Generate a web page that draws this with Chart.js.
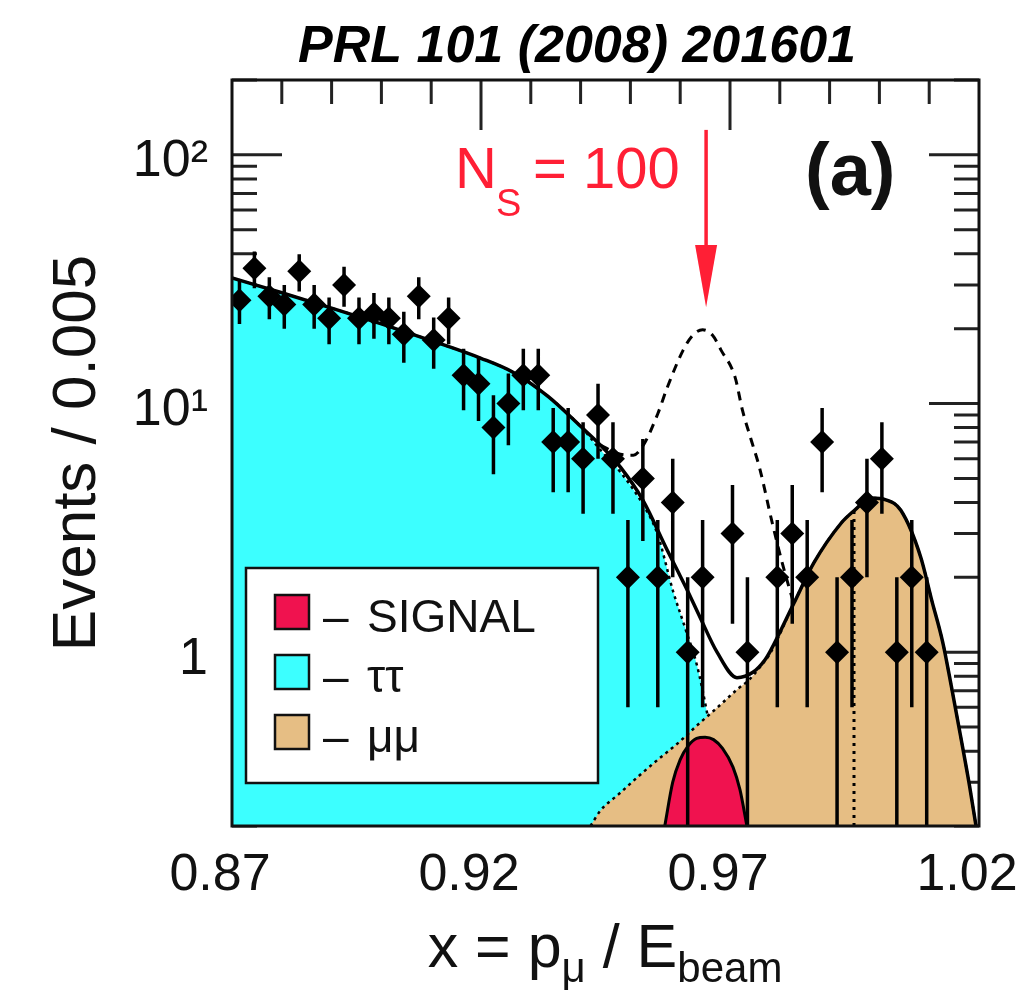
<!DOCTYPE html>
<html>
<head>
<meta charset="utf-8">
<script src="https://cdn.jsdelivr.net/npm/chart.js@4.4.1/dist/chart.umd.min.js"></script>
<style>
    html, body { margin: 0; padding: 0; background: #fff; }
</style>
</head>
<body>
<canvas id="chart" width="1020" height="998"></canvas>
<script>
const FONT = '"Liberation Sans", Arial, Helvetica, sans-serif';

// Measured points (bins without entries are not drawn on the log scale)
const dataX = [0.8715, 0.8745, 0.8775, 0.8805, 0.8835, 0.8865, 0.8895, 0.8925, 0.8955, 0.8985,
    0.9015, 0.9045, 0.9075, 0.9105, 0.9135, 0.9165, 0.9195, 0.9225, 0.9255, 0.9285,
    0.9315, 0.9345, 0.9375, 0.9405, 0.9435, 0.9465, 0.9495, 0.9525, 0.9555, 0.9585,
    0.9615, 0.9645, 0.9705, 0.9735, 0.9795, 0.9825, 0.9855, 0.9885, 0.9915, 0.9945,
    0.9975, 1.0005, 1.0035, 1.0065, 1.0095];
const dataY = [26, 35, 27, 25, 34, 25, 22, 30, 22, 23,
    22, 19, 27, 18, 22, 13, 12, 8, 10, 13,
    13, 7, 7, 6, 9, 6, 2, 5, 2, 4,
    1, 2, 3, 1, 2, 3, 2, 7, 1, 2,
    4, 6, 1, 2, 1];
const dataErr = [5.1, 5.9, 5.2, 5.0, 5.8, 5.0, 4.7, 5.5, 4.7, 4.8,
    4.7, 4.4, 5.2, 4.2, 4.7, 3.6, 3.5, 2.8, 3.2, 3.6,
    3.6, 2.6, 2.6, 2.4, 3.0, 2.4, 1.4, 2.2, 1.4, 2.0,
    1.0, 1.4, 1.7, 1.0, 1.4, 1.7, 1.4, 2.6, 1.0, 1.4,
    2.0, 2.4, 1.0, 1.4, 1.0];

// tau-pair background
const tauX = [0.870, 0.880, 0.890, 0.900, 0.910, 0.920, 0.9266, 0.9334, 0.940, 0.944,
    0.948, 0.9526, 0.9554, 0.9586, 0.9610, 0.9634, 0.9654, 0.9670, 0.9685, 0.9695];
const tauY = [32.0, 27.9, 24.2, 20.9, 17.9, 15.2, 13.3, 10.7, 8.1, 6.5,
    5.3, 3.9, 3.0, 1.75, 1.25, 0.88, 0.57, 0.38, 0.26, 0.2];

// mu-pair background
const muX = [0.942, 0.944, 0.9476, 0.9514, 0.9554, 0.9595, 0.9635, 0.9675, 0.9715, 0.9737,
    0.9760, 0.9782, 0.9828, 0.9868, 0.9923, 0.9950, 0.9983, 1.0013, 1.0043, 1.0083,
    1.0105, 1.0127, 1.0145, 1.0163, 1.0181, 1.0194];
const muY = [0.2, 0.231, 0.268, 0.314, 0.368, 0.43, 0.51, 0.60, 0.71, 0.77,
    0.87, 1.0, 1.57, 2.28, 3.3, 3.72, 4.17, 4.1, 3.72, 2.41,
    1.62, 1.10, 0.72, 0.46, 0.29, 0.2];

// fitted signal
const sigX = [0.9569, 0.9585, 0.9600, 0.9616, 0.9633, 0.9650, 0.9667, 0.9685, 0.9706, 0.9720, 0.9734];
const sigY = [0.2, 0.30, 0.37, 0.42, 0.45, 0.455, 0.445, 0.41, 0.345, 0.28, 0.2];

// total fit
const totX = [0.870, 0.880, 0.890, 0.900, 0.910, 0.920, 0.9266, 0.9334, 0.940, 0.944,
    0.948, 0.9525, 0.9574, 0.9594, 0.9614, 0.9640, 0.9674, 0.9714, 0.9746, 0.9770,
    0.9782, 0.9828, 0.9868, 0.9923, 0.9950, 0.9983, 1.0013, 1.0043, 1.0083, 1.0105,
    1.0127, 1.0145, 1.0163, 1.0181, 1.0194];
const totY = [32.0, 27.9, 24.2, 20.9, 17.9, 15.2, 13.3, 10.7, 8.1, 6.8,
    5.55, 4.09, 2.57, 2.14, 1.78, 1.38, 1.0, 0.79, 0.83, 0.93,
    1.02, 1.57, 2.28, 3.3, 3.72, 4.17, 4.1, 3.72, 2.41, 1.62,
    1.10, 0.72, 0.46, 0.29, 0.2];

// total with 100 signal events
const ns100X = [0.9440, 0.9480, 0.9506, 0.9526, 0.9555, 0.9574, 0.9606, 0.9625, 0.9645, 0.9665,
    0.9682, 0.9710, 0.9725, 0.9742, 0.9759, 0.9785, 0.9805, 0.9828];
const ns100Y = [6.8, 6.25, 6.2, 6.8, 9.1, 11.6, 16.4, 18.8, 19.8, 18.8,
    16.4, 12.8, 9.4, 7.2, 5.55, 3.3, 2.28, 1.57];

const cutX = [0.9949, 0.9949];
const cutY = [0.2, 3.7];

const arrowX = 0.9652;
const arrowY = [126, 43.4, 24.4];

const xTicks = [0.87, 0.92, 0.97, 1.02];
const yTicks = [1, 10, 100];
const yTickLabels = ["1", "10¹", "10²"];

const toPoints = (xs, ys) => xs.map((x, i) => ({ x: x, y: ys[i] }));

const curve = (label, xs, ys, extra) => Object.assign({
    label: label,
    data: toPoints(xs, ys),
    borderColor: "#000",
    borderWidth: 3,
    pointRadius: 0,
    pointHoverRadius: 0,
    fill: false,
    cubicInterpolationMode: "monotone"
}, extra);

// index 0 is drawn on top
const datasets = [
    {
        label: "data",
        data: toPoints(dataX, dataY),
        showLine: false,
        pointStyle: "rectRot",
        pointRadius: 12,
        pointHoverRadius: 12,
        pointBorderWidth: 0,
        backgroundColor: "#000",
        borderColor: "#000"
    },
    curve("N_S = 100", ns100X, ns100Y, { borderDash: [9, 7], borderWidth: 3 }),
    curve("total", totX, totY, { borderWidth: 3.5 }),
    curve("cut", cutX, cutY, { borderDash: [3, 5], borderWidth: 3, cubicInterpolationMode: "default" }),
    curve("SIGNAL", sigX, sigY, { backgroundColor: "#f0124f", borderWidth: 3, fill: "start" }),
    curve("μμ", muX, muY, { backgroundColor: "#e6be84", borderDash: [3, 4], borderWidth: 2.5, fill: "start" }),
    curve("ττ", tauX, tauY, { backgroundColor: "#3cffff", borderDash: [3, 4], borderWidth: 2.5, fill: "start" })
];

const legendLabels = ["SIGNAL", "ττ", "μμ"];

const drawTicks = chart => {
    const { ctx, chartArea: a, scales: { x, y } } = chart;
    ctx.save();
    ctx.strokeStyle = "#222";
    ctx.lineWidth = 3;
    ctx.beginPath();
    for (let i = 88; i <= 101; i++) {
        const px = x.getPixelForValue(i / 100);
        const len = i % 5 === 2 ? 50 : 24;
        ctx.moveTo(px, a.top);
        ctx.lineTo(px, a.top + len);
        ctx.moveTo(px, a.bottom);
        ctx.lineTo(px, a.bottom - len);
    }
    for (const decade of [0.1, 1, 10, 100]) {
        for (let m = 1; m < 10; m++) {
            const v = decade * m;
            if (v < y.min * 0.999 || v > y.max * 1.001) continue;
            const py = y.getPixelForValue(v);
            const len = m === 1 ? 50 : 25;
            ctx.moveTo(a.left, py);
            ctx.lineTo(a.left + len, py);
            ctx.moveTo(a.right, py);
            ctx.lineTo(a.right - len, py);
        }
    }
    ctx.stroke();
    ctx.restore();
};

const drawErrorBars = chart => {
    const { ctx, chartArea: a, scales: { x, y } } = chart;
    ctx.save();
    ctx.beginPath();
    ctx.rect(a.left, a.top, a.right - a.left, a.bottom - a.top);
    ctx.clip();
    ctx.strokeStyle = "#000";
    ctx.lineWidth = 3.5;
    ctx.beginPath();
    dataX.forEach((v, i) => {
        const px = x.getPixelForValue(v);
        const hi = y.getPixelForValue(dataY[i] + dataErr[i]);
        const low = dataY[i] - dataErr[i];
        const lo = low > y.min ? y.getPixelForValue(low) : a.bottom;
        ctx.moveTo(px, hi);
        ctx.lineTo(px, lo);
    });
    ctx.stroke();
    ctx.restore();
};

const drawLegend = chart => {
    const ctx = chart.ctx;
    ctx.save();
    ctx.fillStyle = "#fff";
    ctx.fillRect(246, 568, 352, 215);
    ctx.strokeStyle = "#111";
    ctx.lineWidth = 2.5;
    ctx.strokeRect(246, 568, 352, 215);
    legendLabels.forEach((label, i) => {
        const ds = chart.data.datasets.find(d => d.label === label);
        const top = 595 + i * 60;
        ctx.fillStyle = ds.backgroundColor;
        ctx.fillRect(275, top, 34, 34);
        ctx.strokeStyle = "#111";
        ctx.lineWidth = 2.5;
        ctx.strokeRect(275, top, 34, 34);
        ctx.fillStyle = "#111";
        ctx.font = "46px " + FONT;
        ctx.textBaseline = "alphabetic";
        ctx.textAlign = "left";
        ctx.fillText("–", 323, top + 37);
        ctx.fillText(label, 367, top + 37);
    });
    ctx.restore();
};

const drawNotes = chart => {
    const { ctx, chartArea: a, scales: { x, y } } = chart;
    ctx.save();
    ctx.strokeStyle = "#111";
    ctx.lineWidth = 3;
    ctx.strokeRect(a.left, a.top, a.right - a.left, a.bottom - a.top);

    // N_S label and arrow
    const red = "#ff1f35";
    ctx.fillStyle = red;
    ctx.textAlign = "left";
    ctx.textBaseline = "alphabetic";
    ctx.font = "58px " + FONT;
    ctx.fillText("N", 455, 188);
    ctx.fillText("= 100", 533, 188);
    ctx.font = "38px " + FONT;
    ctx.fillText("S", 496, 216);

    const ax = x.getPixelForValue(arrowX);
    const y0 = y.getPixelForValue(arrowY[0]);
    const y1 = y.getPixelForValue(arrowY[1]);
    const y2 = y.getPixelForValue(arrowY[2]);
    ctx.strokeStyle = red;
    ctx.lineWidth = 3.5;
    ctx.beginPath();
    ctx.moveTo(ax, y0);
    ctx.lineTo(ax, y1 + 2);
    ctx.stroke();
    ctx.beginPath();
    ctx.moveTo(ax - 11, y1);
    ctx.lineTo(ax + 11, y1);
    ctx.lineTo(ax, y2);
    ctx.closePath();
    ctx.fill();

    ctx.fillStyle = "#111";
    ctx.font = "bold 74px " + FONT;
    ctx.fillText("(a)", 805, 195);

    // heading
    ctx.font = "italic bold 52px " + FONT;
    ctx.textAlign = "center";
    ctx.fillStyle = "#000";
    ctx.fillText("PRL 101 (2008) 201601", 577, 62);

    // x-axis title with subscripts
    const parts = [
        { text: "x = p", sub: false },
        { text: "μ", sub: true },
        { text: " / E", sub: false },
        { text: "beam", sub: true }
    ];
    const fontFor = p => (p.sub ? "42px " : "61px ") + FONT;
    let width = 0;
    parts.forEach(p => {
        ctx.font = fontFor(p);
        p.width = ctx.measureText(p.text).width;
        width += p.width;
    });
    let cx = 605 - width / 2;
    ctx.textAlign = "left";
    ctx.fillStyle = "#111";
    parts.forEach(p => {
        ctx.font = fontFor(p);
        ctx.fillText(p.text, cx, p.sub ? 982 : 967);
        cx += p.width;
    });
    ctx.restore();
};

const figurePlugin = {
    id: "figure",
    beforeDatasetsDraw: chart => drawTicks(chart),
    beforeDatasetDraw: (chart, args) => {
        if (args.index === 0) drawErrorBars(chart);
    },
    afterDatasetsDraw: chart => {
        drawLegend(chart);
        drawNotes(chart);
    }
};

new Chart(document.getElementById("chart"), {
    type: "line",
    data: { datasets: datasets },
    plugins: [figurePlugin],
    options: {
        responsive: false,
        devicePixelRatio: 1,
        animation: false,
        events: [],
        layout: { padding: { top: 80, right: 41, left: 0, bottom: 0 } },
        plugins: {
            legend: { display: false },
            tooltip: { enabled: false }
        },
        scales: {
            x: {
                type: "linear",
                min: 0.87,
                max: 1.02,
                grid: { display: false, drawTicks: false },
                border: { display: false },
                afterFit: scale => {
                    // keep the tick labels from widening the margins
                    scale.height = 172;
                    scale.paddingLeft = 0;
                    scale.paddingRight = 0;
                },
                afterBuildTicks: scale => { scale.ticks = xTicks.map(v => ({ value: v })); },
                ticks: {
                    padding: 18,
                    labelOffset: -12,
                    maxRotation: 0,
                    color: "#111",
                    font: { family: FONT, size: 52 },
                    callback: value => value.toFixed(2)
                }
            },
            y: {
                type: "logarithmic",
                min: 0.2,
                max: 200,
                grid: { display: false, drawTicks: false },
                border: { display: false },
                afterFit: scale => {
                    scale.width = 232;
                    scale.paddingTop = 0;
                    scale.paddingBottom = 0;
                },
                afterBuildTicks: scale => { scale.ticks = yTicks.map(v => ({ value: v })); },
                ticks: {
                    padding: 24,
                    labelOffset: 7,
                    color: "#111",
                    font: { family: FONT, size: 52 },
                    callback: value => yTickLabels[yTicks.indexOf(value)]
                },
                title: {
                    display: true,
                    text: "Events / 0.005",
                    color: "#111",
                    font: { family: FONT, size: 62 },
                    padding: { top: 41, bottom: 0 }
                }
            }
        }
    }
});
</script>
</body>
</html>
